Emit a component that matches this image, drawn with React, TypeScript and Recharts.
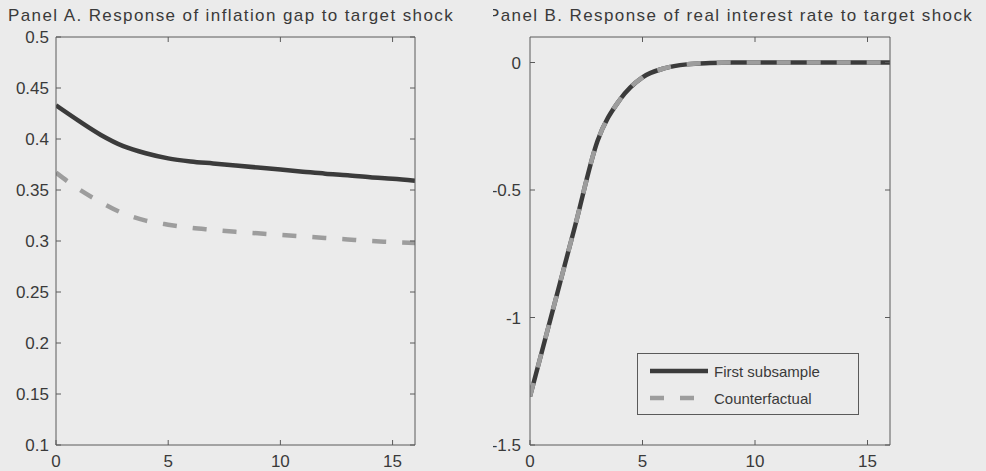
import { LineChart, Line, XAxis, YAxis, Legend } from "recharts";

const periods = [0, 1, 2, 3, 4, 5, 6, 7, 8, 9, 10, 11, 12, 13, 14, 15, 16];

// Panel A: inflation gap
const inflationFirst = [0.433, 0.418, 0.404, 0.393, 0.386, 0.381, 0.378, 0.376, 0.374, 0.372, 0.370, 0.368, 0.366, 0.3645, 0.3625, 0.361, 0.359];
const inflationCounter = [0.367, 0.351, 0.338, 0.327, 0.320, 0.316, 0.313, 0.311, 0.309, 0.3075, 0.306, 0.3045, 0.303, 0.3015, 0.300, 0.299, 0.298];

// Panel B: real interest rate (the two lines coincide)
const rateFirst = [-1.31, -0.976, -0.642, -0.308, -0.145, -0.058, -0.022, -0.007, -0.002, 0, 0, 0, 0, 0, 0, 0, 0];
const rateCounter = [-1.31, -0.976, -0.642, -0.308, -0.145, -0.058, -0.022, -0.007, -0.002, 0, 0, 0, 0, 0, 0, 0, 0];

const xTicks = [0, 5, 10, 15];
const xTopTicks = [5, 10, 15];
const inflationTicks = [0.1, 0.15, 0.2, 0.25, 0.3, 0.35, 0.4, 0.45, 0.5];
const rateTicks = [-1.5, -1, -0.5, 0];

const seriesNames = ["First subsample", "Counterfactual"];

const FONT = "'Liberation Sans', Arial, Helvetica, sans-serif";
const BG = "#ebebeb";
const AXIS = "#5a5a5a";
const TEXT = "#3a3a3a";
const DARK = "#3b3b3b";
const GRAY = "#9d9d9d";

const dataA = periods.map((p, i) => ({ p, first: inflationFirst[i], counter: inflationCounter[i] }));
const dataB = periods.map((p, i) => ({ p, first: rateFirst[i], counter: rateCounter[i] }));

const tickStyle = { fontSize: 17, fill: TEXT, fontFamily: FONT };
// top axis keeps its tick marks but prints no labels
const hiddenLabel = { fontSize: 1, fill: "transparent" };

function LegendBox(props: any) {
    const items = ([...(props.payload || [])] as any[])
        .sort((a, b) => seriesNames.indexOf(a.value) - seriesNames.indexOf(b.value));
    return (
        <div style={{
            width: 220, height: 60, border: `1px solid ${AXIS}`, background: BG,
            fontFamily: FONT, fontSize: 15, color: TEXT, position: "relative",
        }}>
            {items.map((it, i) => (
                <div key={i} style={{ position: "absolute", left: 11, top: 7 + i * 27, height: 20, display: "flex", alignItems: "center" }}>
                    <svg width={60} height={20}>
                        <line x1={1} x2={59} y1={10} y2={10} stroke={it.color} strokeWidth={4.5}
                            strokeDasharray={it.payload?.strokeDasharray} />
                    </svg>
                    <span style={{ marginLeft: 5 }}>{it.value}</span>
                </div>
            ))}
        </div>
    );
}

function Panel({ title, titleX, data, domain, yTicks, leftWidth, leftMargin, rightMargin, labelGap, legend }: any) {
    return (
        <LineChart width={493} height={471} data={data}
            margin={{ top: 7, right: rightMargin, bottom: 0, left: leftMargin }}>
            <text x={titleX} y={21} fontFamily={FONT} fontSize={17} fill={TEXT} letterSpacing="1.4px">{title}</text>
            <XAxis dataKey="p" type="number" domain={[0, 16]} ticks={xTicks} interval={0}
                height={26} tickSize={-5} tickMargin={15} stroke={AXIS} tick={tickStyle} allowDataOverflow />
            <XAxis xAxisId="top" orientation="top" dataKey="p" type="number" domain={[0, 16]}
                ticks={xTopTicks} interval={0} height={30} tickSize={-5} tick={hiddenLabel}
                stroke={AXIS} allowDataOverflow />
            <YAxis type="number" domain={domain} ticks={yTicks} interval={0} width={leftWidth}
                tickSize={-5} tickMargin={labelGap} stroke={AXIS} tick={tickStyle} allowDataOverflow />
            <YAxis yAxisId="right" orientation="right" type="number" domain={domain} ticks={yTicks}
                interval={0} width={1} tickSize={-5} tick={hiddenLabel} stroke={AXIS} allowDataOverflow />
            <Line dataKey="first" name={seriesNames[0]} type="monotone" stroke={DARK}
                strokeWidth={4.5} dot={false} isAnimationActive={false} />
            {/* top/right axes share the bottom/left domains, so this line sits on the same scale */}
            <Line dataKey="counter" name={seriesNames[1]} xAxisId="top" yAxisId="right" type="monotone"
                stroke={GRAY} strokeWidth={4.5} strokeDasharray="14 16" dot={false} isAnimationActive={false} />
            {legend && (
                <Legend verticalAlign="middle" align="center" layout="vertical" content={<LegendBox />}
                    wrapperStyle={{ left: 144, top: 353, width: 222, height: 62 }} />
            )}
        </LineChart>
    );
}

export default function App() {
    return (
        <div style={{ position: "fixed", left: 0, top: 0, width: 986, height: 471, background: BG, overflow: "hidden", display: "flex" }}>
            <Panel title="Panel A. Response of inflation gap to target shock" titleX={8}
                data={dataA} domain={[0.1, 0.5]} yTicks={inflationTicks}
                leftWidth={50} leftMargin={6} rightMargin={77} labelGap={12} legend={false} />
            <div style={{ marginLeft: 0 }}>
                <Panel title="Panel B. Response of real interest rate to target shock" titleX={-5}
                    data={dataB} domain={[-1.5, 0.1]} yTicks={rateTicks}
                    leftWidth={32} leftMargin={5} rightMargin={95} labelGap={14} legend={true} />
            </div>
        </div>
    );
}
